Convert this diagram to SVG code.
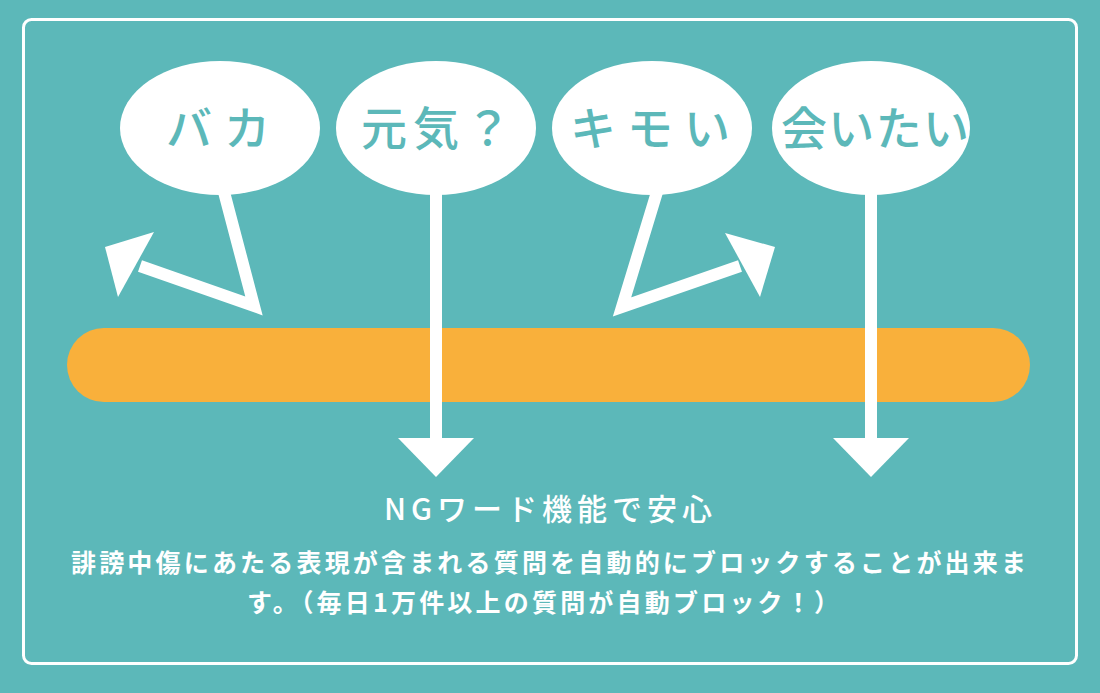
<svg xmlns="http://www.w3.org/2000/svg" width="1100" height="693" viewBox="0 0 1100 693">
<style>
.bubble{fill:#ffffff}
.word{font-family:"Noto Sans CJK JP","Noto Sans",sans-serif;font-size:46px;font-weight:500;fill:#5cb8b9}
.shaft{fill:none;stroke:#ffffff;stroke-width:12;stroke-linejoin:miter;stroke-miterlimit:10}
.head{fill:#ffffff}
.title{font-family:"Noto Sans CJK JP","Noto Sans",sans-serif;font-size:30px;font-weight:500;fill:#ffffff}
.para{font-family:"Noto Sans CJK JP","Noto Sans",sans-serif;font-size:25px;font-weight:700;fill:#ffffff}
</style>
<rect x="0" y="0" width="1100" height="693" fill="#5cb8b9"/>
<rect x="23.5" y="19.5" width="1053" height="644" rx="8" fill="none" stroke="#ffffff" stroke-width="3"/>
<rect id="bar" x="67" y="328" width="963" height="74" rx="37" fill="#f9b03b"/>
<g id="node-baka">
<ellipse class="bubble" cx="220" cy="128" rx="100" ry="67"/>
<text class="word" x="166" y="145" textLength="104" lengthAdjust="spacing">バカ</text>
</g>
<g id="node-genki">
<ellipse class="bubble" cx="436" cy="128" rx="100" ry="67"/>
<text class="word" x="361" y="145" textLength="150" lengthAdjust="spacing">元気？</text>
</g>
<g id="node-kimoi">
<ellipse class="bubble" cx="652" cy="128" rx="100" ry="67"/>
<text class="word" x="570" y="145" textLength="160" lengthAdjust="spacing">キモい</text>
</g>
<g id="node-aitai">
<ellipse class="bubble" cx="871" cy="128" rx="99" ry="67"/>
<text class="word" x="781" y="145" textLength="188" lengthAdjust="spacing">会いたい</text>
</g>
<g id="connectors">
<polyline class="shaft" points="224,192 254,306 140,266"/>
<polygon class="head" points="105,247 154,232 118,297"/>
<polyline class="shaft" points="657,192 622,307 740,266"/>
<polygon class="head" points="775,247 725,233 760,297"/>
<line class="shaft" x1="436" y1="192" x2="436" y2="442"/>
<polygon class="head" points="398,438 474,438 436,477"/>
<line class="shaft" x1="871" y1="192" x2="871" y2="442"/>
<polygon class="head" points="833,438 909,438 871,477"/>
</g>
<g id="caption">
<text class="title" x="384" y="520" textLength="328" lengthAdjust="spacing">NGワード機能で安心</text>
<text class="para" x="71" y="572" textLength="955" lengthAdjust="spacing">誹謗中傷にあたる表現が含まれる質問を自動的にブロックすることが出来ま</text>
<text class="para" x="247" y="612" textLength="592" lengthAdjust="spacing">す。（毎日1万件以上の質問が自動ブロック！）</text>
</g>
</svg>
